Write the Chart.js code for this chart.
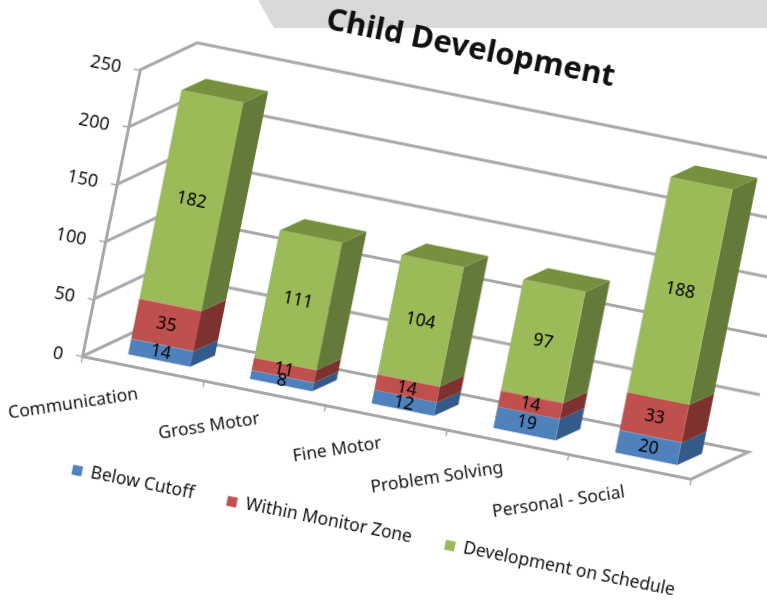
<!DOCTYPE html>
<html><head><meta charset="utf-8">
<script src="https://cdn.jsdelivr.net/npm/chart.js@4"></script>
<style>
html,body{margin:0;padding:0;background:#fff;width:767px;height:600px;overflow:hidden}
#band{position:absolute;left:0;top:0;width:767px;height:28px;background:#d9d9d9;clip-path:polygon(258px 0,274px 28px,767px 28px,767px 0)}
#c{position:absolute;left:82px;top:-48.5px;transform-origin:0 0;transform:rotate(11.4deg);filter:blur(0.45px)}
</style></head><body>
<div id="band"></div>
<canvas id="c" width="800" height="528"></canvas>
<script>
const categories=["Communication","Gross Motor","Fine Motor","Problem Solving","Personal - Social"];
const belowCutoff=[14,8,12,19,20];
const withinMonitor=[35,11,14,14,33];
const onSchedule=[182,111,104,97,188];
const titleText="Child Development";
const FONT="'Noto Sans'";
const GRID="#a8a8a8";
const DEPTH={x:51,y:38};           // depth of the floor
const BAR={start:.28,x:22,y:16};   // bar placement in that depth
const FACE={blue:"#4f81bd",red:"#c0504d",green:"#9bbb59"};
const SIDE={blue:"#335a88",red:"#7e3230",green:"#647a3a"};
const TOP="#76903f";
const three={id:"three",
 afterLayout(ch){ ch.scales.x.bottom+=40; },
 beforeDatasetsDraw(ch){
  const {ctx,chartArea:a,scales:{y}}=ch;
  ctx.save();ctx.strokeStyle=GRID;ctx.lineWidth=3;ctx.lineJoin="miter";
  y.ticks.forEach(t=>{
    const p=y.getPixelForValue(t.value);
    ctx.beginPath();ctx.moveTo(a.left,p);ctx.lineTo(a.left+DEPTH.x,p-DEPTH.y);ctx.lineTo(a.right+DEPTH.x,p-DEPTH.y);
    if(t.value===0)ctx.lineTo(a.right,p);
    ctx.stroke();
  });
  ctx.restore();
  ctx.save();
  ctx.translate(BAR.start*DEPTH.x,-BAR.start*DEPTH.y);
  ch.data.datasets.forEach((d,di)=>{
    ch.getDatasetMeta(di).data.forEach(b=>{
      const r=b.x+b.width/2,l=b.x-b.width/2;
      ctx.fillStyle=d.sideColor;
      ctx.beginPath();ctx.moveTo(r,b.y);ctx.lineTo(r+BAR.x,b.y-BAR.y);ctx.lineTo(r+BAR.x,b.base-BAR.y);ctx.lineTo(r,b.base);ctx.closePath();ctx.fill();
      if(di===ch.data.datasets.length-1){
        ctx.fillStyle=TOP;
        ctx.beginPath();ctx.moveTo(l,b.y);ctx.lineTo(l+BAR.x,b.y-BAR.y);ctx.lineTo(r+BAR.x,b.y-BAR.y);ctx.lineTo(r,b.y);ctx.closePath();ctx.fill();
      }
    });
  });
 },
 afterDatasetsDraw(ch){
  const {ctx}=ch;
  ctx.fillStyle="#000";ctx.font="17.5px "+FONT;ctx.textAlign="center";ctx.textBaseline="middle";
  ch.data.datasets.forEach((d,di)=>{
    ch.getDatasetMeta(di).data.forEach((b,i)=>{
      const c=b.getCenterPoint();
      ctx.fillText(String(d.data[i]),c.x,c.y);
    });
  });
  ctx.restore();
 }
};
new Chart(document.getElementById("c"),{
 type:"bar",
 data:{labels:categories,datasets:[
  {label:"Below Cutoff",data:belowCutoff,backgroundColor:FACE.blue,sideColor:SIDE.blue,clip:false},
  {label:"Within Monitor Zone",data:withinMonitor,backgroundColor:FACE.red,sideColor:SIDE.red,clip:false},
  {label:"Development on Schedule",data:onSchedule,backgroundColor:FACE.green,sideColor:SIDE.green,clip:false}
 ]},
 options:{responsive:false,animation:false,devicePixelRatio:1,
  datasets:{bar:{barPercentage:.51,categoryPercentage:1}},
  plugins:{
   title:{display:true,text:titleText,color:"#111",font:{family:FONT,size:31,weight:"bold"},padding:{top:0,bottom:67}},
   legend:{position:"bottom",labels:{boxWidth:10,boxHeight:10,padding:34,color:"#111",font:{family:FONT,size:17.5}}},
   tooltip:{enabled:false}
  },
  scales:{
   x:{stacked:true,afterFit(s){s.height=70},
    grid:{drawOnChartArea:false,drawTicks:true,tickLength:6,color:GRID,tickWidth:1.5,offset:true},
    border:{color:GRID,width:3},
    ticks:{minRotation:20,maxRotation:20,padding:10,color:"#111",font:{family:FONT,size:17.5},autoSkip:false}},
   y:{stacked:true,min:0,max:250,afterFit(s){s.width=80},
    grid:{drawOnChartArea:false,drawTicks:true,tickLength:6,color:GRID,tickWidth:1.5},
    border:{color:GRID,width:3},
    ticks:{stepSize:50,padding:13,labelOffset:2,color:"#111",font:{family:FONT,size:18}}},
   spacer:{type:"linear",position:"right",display:true,afterFit(s){s.width=99},
    grid:{display:false,drawTicks:false},border:{display:false},ticks:{display:false}}
  }
 },
 plugins:[three]
});
</script>
</body></html>
